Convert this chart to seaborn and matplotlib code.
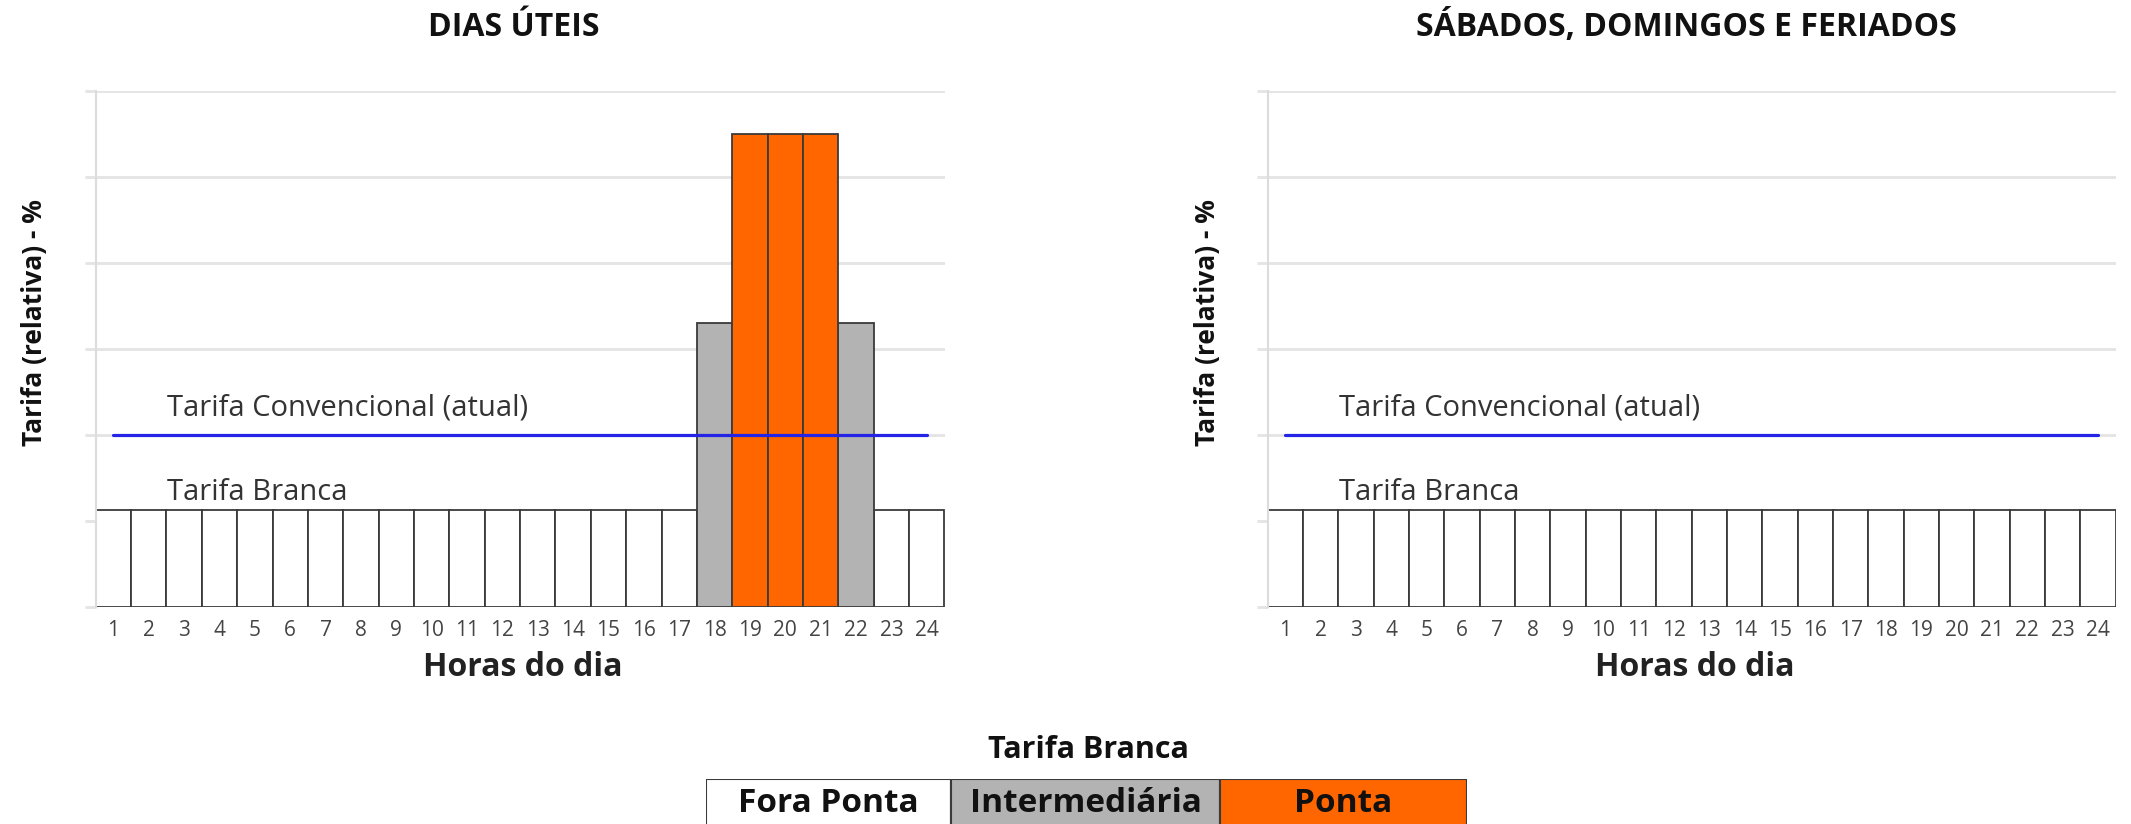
import numpy as np
import pandas as pd
import matplotlib
matplotlib.use("Agg")
import matplotlib.pyplot as plt
import seaborn as sns

# ---------------- data ----------------
hours = [1, 2, 3, 4, 5, 6, 7, 8, 9, 10, 11, 12, 13, 14, 15, 16, 17, 18, 19, 20, 21, 22, 23, 24]
weekday_posto = ["Fora Ponta"] * 17 + ["Intermediária", "Ponta", "Ponta", "Ponta", "Intermediária"] + ["Fora Ponta"] * 2
weekday_tarifa = [1.12, 1.12, 1.12, 1.12, 1.12, 1.12, 1.12, 1.12, 1.12, 1.12, 1.12, 1.12,
                  1.12, 1.12, 1.12, 1.12, 1.12, 3.3, 5.5, 5.5, 5.5, 3.3, 1.12, 1.12]
weekend_posto = ["Fora Ponta"] * 24
weekend_tarifa = [1.12, 1.12, 1.12, 1.12, 1.12, 1.12, 1.12, 1.12, 1.12, 1.12, 1.12, 1.12,
                  1.12, 1.12, 1.12, 1.12, 1.12, 1.12, 1.12, 1.12, 1.12, 1.12, 1.12, 1.12]
convencional = [2.0, 2.0, 2.0, 2.0, 2.0, 2.0, 2.0, 2.0, 2.0, 2.0, 2.0, 2.0,
                2.0, 2.0, 2.0, 2.0, 2.0, 2.0, 2.0, 2.0, 2.0, 2.0, 2.0, 2.0]
postos = ["Fora Ponta", "Intermediária", "Ponta"]
posto_colors = ["#FFFFFF", "#B3B3B3", "#FF6600"]
titles = ["DIAS ÚTEIS", "SÁBADOS, DOMINGOS E FERIADOS"]
ylabel = "Tarifa (relativa) - %"
xlabel = "Horas do dia"
legend_title = "Tarifa Branca"

# ---------------- style ----------------
sns.set_theme(style="white")
plt.rcParams["font.family"] = ["Open Sans", "DejaVu Sans"]

W, H = 2131, 824
fig = plt.figure(figsize=(W / 100, H / 100), dpi=100)

def fx(px):
    return px / W

def fy(py):
    return 1 - py / H

axes_px = [(95.7, 944.5), (1267.6, 2115.6)]
top_px, bot_px = 90.6, 606.5

panels = [
    (weekday_tarifa, weekday_posto),
    (weekend_tarifa, weekend_posto),
]
palette = dict(zip(postos, posto_colors))
hour_labels = [str(h) for h in hours]

for i, ((vals, cats), (x0, x1)) in enumerate(zip(panels, axes_px)):
    ax = fig.add_axes([fx(x0), fy(bot_px), (x1 - x0) / W, (bot_px - top_px) / H])
    df = pd.DataFrame({"hora": hour_labels, "tarifa": vals, "posto": cats})
    sns.barplot(data=df, x="hora", y="tarifa", hue="posto", hue_order=postos,
                order=hour_labels, palette=palette, dodge=False, width=1.0,
                saturation=1, edgecolor="#3a3a3a", linewidth=1.3, legend=False,
                ax=ax, zorder=2)
    pos = np.arange(len(hours))
    sns.lineplot(x=pos, y=convencional, color="#2424E6", linewidth=2.3, ax=ax, zorder=4)
    ax.set_xlim(-0.5, len(hours) - 0.5)
    ax.set_ylim(0, 6)
    ax.set_yticks(range(0, 7))
    ax.set_yticklabels([])
    ax.yaxis.grid(True, color="#e4e4e4", linewidth=2)
    ax.xaxis.grid(False)
    ax.set_axisbelow(True)
    ax.tick_params(axis="y", left=True, length=8, width=2, color="#e4e4e4")
    ax.tick_params(axis="x", length=0, pad=10, labelsize=15, labelcolor="#444444")
    for s in ["top", "right", "bottom"]:
        ax.spines[s].set_visible(False)
    ax.spines["left"].set_color("#dcdcdc")
    ax.spines["left"].set_linewidth(1.5)
    ax.set_xlabel("")
    ax.set_ylabel("")
    ax.text(1.52, 2.31, "Tarifa Convencional (atual)", fontsize=21, color="#333333",
            va="center", ha="left", zorder=5)
    ax.text(1.52, 1.33, "Tarifa Branca", fontsize=21, color="#333333",
            va="center", ha="left", zorder=5)

# titles and labels
fig.text(fx(514), fy(27), titles[0], fontsize=23, fontweight="bold", color="#111111",
         ha="center", va="center")
fig.text(fx(1686), fy(27), titles[1], fontsize=23, fontweight="bold", color="#111111",
         ha="center", va="center")
for xc in (35, 1207):
    fig.text(fx(xc), fy(323), ylabel, rotation=90, fontsize=19, fontweight="bold",
             color="#111111", ha="center", va="center")
for xc in (523, 1695):
    fig.text(fx(xc), fy(667), xlabel, fontsize=23, fontweight="bold", color="#222222",
             ha="center", va="center")

# legend bar
fig.text(fx(1088), fy(750), legend_title, fontsize=22, fontweight="bold", color="#111111",
         ha="center", va="center")
cell_widths = [245, 269, 247]
lax = fig.add_axes([fx(706), fy(828), sum(cell_widths) / W, (828 - 779) / H])
lefts = np.concatenate([[0], np.cumsum(cell_widths)[:-1]])
lax.barh([0, 0, 0], cell_widths, left=lefts, height=1.0, color=posto_colors,
         edgecolor="#3a3a3a", linewidth=1.5)
for l, w, name in zip(lefts, cell_widths, postos):
    lax.text(l + w / 2, 0, name, fontsize=24, fontweight="bold", color="#111111",
             ha="center", va="center")
lax.set_xlim(0, sum(cell_widths))
lax.set_ylim(-0.5, 0.5)
lax.axis("off")

fig.savefig("out.png", dpi=100)
